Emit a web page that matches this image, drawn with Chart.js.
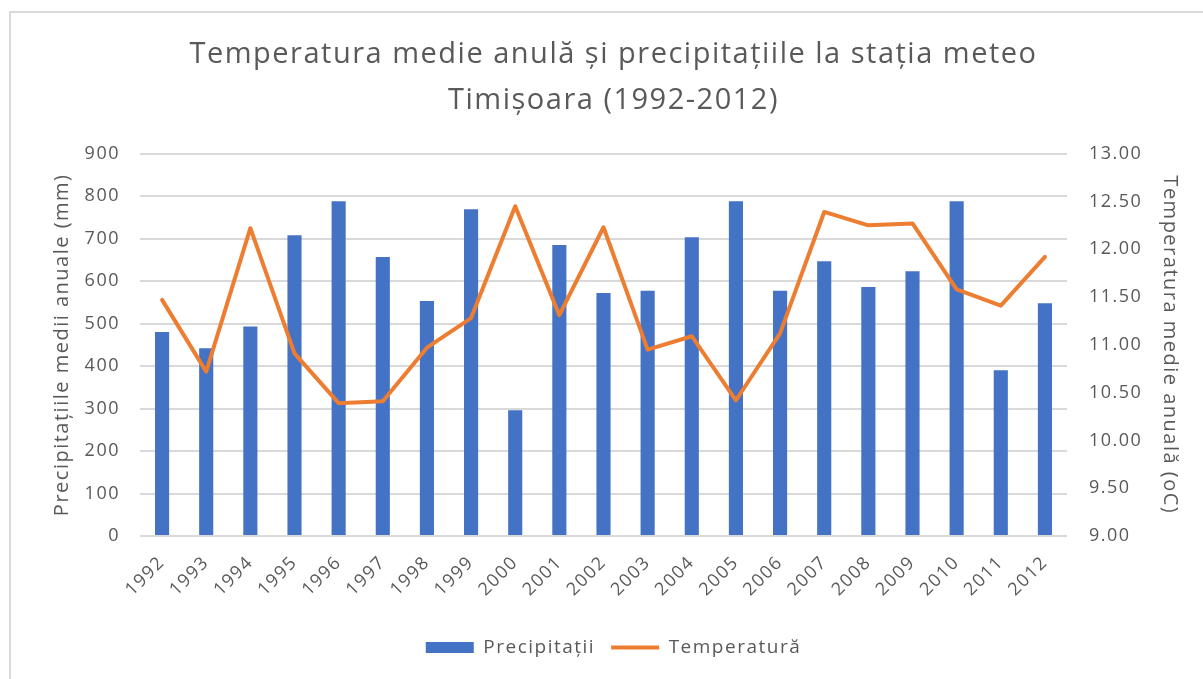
<!DOCTYPE html>
<html>
<head>
<meta charset="utf-8">
<script src="https://cdn.jsdelivr.net/npm/chart.js@4.4.1/dist/chart.umd.min.js"></script>
<style>
  html, body { margin: 0; padding: 0; background: #ffffff; }
  #wrap { position: relative; width: 1203px; height: 679px; overflow: hidden; }
  #frame { position: absolute; left: 9px; top: 11px; width: 1300px; height: 800px;
           border-top: 2px solid #d9d9d9; border-left: 2px solid #d9d9d9; }
  canvas { position: absolute; left: 0; top: 0; }
</style>
</head>
<body>
<div id="wrap">
  <div id="frame"></div>
  <canvas id="c" width="1203" height="679"></canvas>
</div>
<script>
const years = ['1992','1993','1994','1995','1996','1997','1998','1999','2000','2001','2002',
               '2003','2004','2005','2006','2007','2008','2009','2010','2011','2012'];
const precipitatii = [480, 442, 493, 708, 788, 657, 553, 769, 296, 685, 572,
                      577, 703, 788, 577, 647, 586, 623, 788, 390, 548];
const temperatura = [11.47, 10.72, 12.22, 10.91, 10.39, 10.41, 10.97, 11.28, 12.45, 11.31, 12.23,
                     10.95, 11.09, 10.42, 11.12, 12.39, 12.25, 12.27, 11.58, 11.41, 11.92];
const titleLines = ['Temperatura medie anulă și precipitațiile la stația meteo', 'Timișoara (1992-2012)'];
const leftTitle = 'Precipitațiile medii anuale (mm)';
const rightTitle = 'Temperatura medie anuală (oC)';
const seriesNames = ['Precipitații', 'Temperatură'];

const GREY = '#595959';
const FONT = "'Open Sans', 'Noto Sans', sans-serif";

const spacing = {
  id: 'spacing',
  beforeUpdate(c) { c.ctx.letterSpacing = '1.5px'; },
  beforeLayout(c) { c.ctx.letterSpacing = '1.5px'; },
  beforeDraw(c) { c.ctx.letterSpacing = '1.5px'; }
};

new Chart(document.getElementById('c'), {
  type: 'bar',
  data: {
    labels: years,
    datasets: [
      {
        type: 'bar',
        label: seriesNames[0],
        data: precipitatii,
        backgroundColor: '#4472C4',
        borderWidth: 0,
        yAxisID: 'y',
        order: 1,
        categoryPercentage: 1.0,
        barPercentage: 0.32,
        pointStyle: 'rect'
      },
      {
        type: 'line',
        label: seriesNames[1],
        data: temperatura,
        borderColor: '#ED7D31',
        backgroundColor: '#ED7D31',
        borderWidth: 4,
        borderJoinStyle: 'round',
        borderCapStyle: 'round',
        pointRadius: 0,
        pointHoverRadius: 0,
        pointStyle: 'line',
        tension: 0,
        yAxisID: 'y1',
        order: 0
      }
    ]
  },
  options: {
    responsive: false,
    animation: false,
    events: [],
    layout: { padding: { left: 24, right: 0, top: 0, bottom: 12 } },
    plugins: {
      tooltip: { enabled: false },
      title: {
        display: true,
        text: titleLines,
        color: GREY,
        font: { family: FONT, size: 29, weight: 'normal', lineHeight: 1.58 },
        padding: { top: 32, bottom: 30 }
      },
      legend: {
        position: 'bottom',
        labels: {
          color: GREY,
          font: { family: FONT, size: 19 },
          usePointStyle: true,
          pointStyleWidth: 48,
          boxHeight: 11,
          padding: 16,
          sort: (a, b) => a.datasetIndex - b.datasetIndex
        }
      }
    },
    scales: {
      x: {
        grid: { display: false, drawTicks: false },
        border: { display: false },
        ticks: {
          color: GREY,
          font: { family: FONT, size: 18 },
          minRotation: 45,
          maxRotation: 45,
          padding: 16,
          autoSkip: false
        },
        afterFit(s) { s.height = 86; }
      },
      y: {
        position: 'left',
        min: 0,
        max: 900,
        ticks: { stepSize: 100, color: GREY, font: { family: FONT, size: 18 }, padding: 20 },
        grid: { color: '#d9d9d9', lineWidth: 2, drawTicks: false },
        border: { display: false },
        title: {
          display: true,
          text: leftTitle,
          color: GREY,
          font: { family: FONT, size: 20 },
          padding: { top: 26, bottom: 0 }
        },
        afterFit(s) { s.width = 116; }
      },
      y1: {
        position: 'right',
        min: 9,
        max: 13,
        ticks: {
          stepSize: 0.5,
          color: GREY,
          font: { family: FONT, size: 18 },
          padding: 22,
          callback: v => Number(v).toFixed(2)
        },
        grid: { display: false, drawTicks: false },
        border: { display: false },
        title: {
          display: true,
          text: rightTitle,
          color: GREY,
          font: { family: FONT, size: 20 },
          padding: { top: 21, bottom: 0 }
        },
        afterFit(s) { s.width = 136; }
      }
    }
  },
  plugins: [spacing]
});
</script>
</body>
</html>
